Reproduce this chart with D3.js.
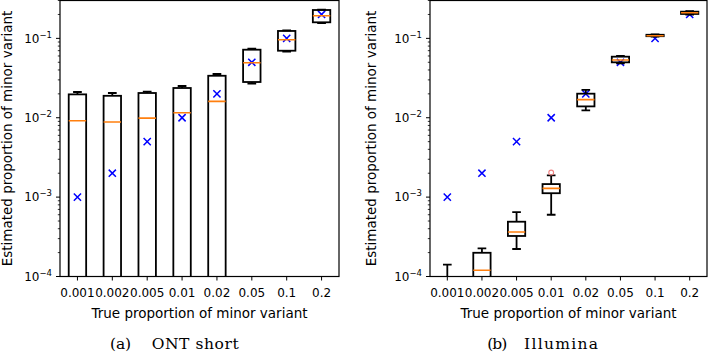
<!DOCTYPE html>
<html><head><meta charset="utf-8">
<script src="https://cdn.jsdelivr.net/npm/d3@7"></script>
<style>body{margin:0;background:#fff}svg{display:block}
text{font-family:"DejaVu Sans";}
text.serif{font-family:"DejaVu Serif";}
</style>
</head><body><svg id="c" width="708" height="353"></svg>
<script>
// ---- data ----
const categories = ["0.001","0.002","0.005","0.01","0.02","0.05","0.1","0.2"];
const trueValues = [0.001,0.002,0.005,0.01,0.02,0.05,0.1,0.2];
const yTickValues = [1e-4,1e-3,1e-2,1e-1];
const yTickExponents = ["−4","−3","−2","−1"];

// ONT short (values below 1e-4 fall outside the visible range)
const ontWhiskLo = [3e-5,3e-5,3e-5,3e-5,3e-5,0.027,0.0679,0.156];
const ontQ1      = [5e-5,5e-5,5e-5,5e-5,5e-5,0.0282,0.0699,0.1594];
const ontMedian  = [0.00917,0.00883,0.0099,0.01156,0.0161,0.0493,0.0962,0.193];
const ontQ3      = [0.0197,0.0189,0.0205,0.0237,0.0338,0.072,0.124,0.2277];
const ontWhiskHi = [0.0211,0.0205,0.0213,0.0251,0.0356,0.0741,0.126,0.2297];
const ontFliers  = [[],[],[],[],[],[],[],[]];

// Illumina
const illWhiskLo = [2e-5,3e-5,2.22e-4,6.0e-4,0.0124,0.0485,0.105,0.2];
const illQ1      = [4e-5,6e-5,3.24e-4,1.12e-3,0.0139,0.0499,0.1065,0.203];
const illMedian  = [6e-5,1.2e-4,3.63e-4,1.29e-3,0.0169,0.0533,0.108,0.21];
const illQ3      = [8e-5,1.99e-4,4.9e-4,1.46e-3,0.0201,0.0588,0.111,0.217];
const illWhiskHi = [1.41e-4,2.26e-4,6.49e-4,1.88e-3,0.0225,0.06,0.112,0.22];
const illFliers  = [[],[],[],[2.04e-3],[],[],[],[]];

const yLabelText = "Estimated proportion of minor variant";
const xLabelText = "True proportion of minor variant";

// ---- drawing ----
const svg = d3.select("#c");
const y = d3.scaleLog().domain([1e-4, 0.3]).range([276.5, 0.5]);

function panel(cfg) {
  const x = d3.scaleLinear().domain([0.5, categories.length + 0.5]).range([cfg.x0, cfg.x1]);
  const g = svg.append("g");
  const clipId = "clip" + cfg.id;
  svg.append("clipPath").attr("id", clipId).append("rect")
    .attr("x", cfg.x0).attr("y", y.range()[1]).attr("width", cfg.x1 - cfg.x0)
    .attr("height", y.range()[0] - y.range()[1]);
  const plot = g.append("g").attr("clip-path", `url(#${clipId})`);

  // true value markers
  const m = 3.6;
  trueValues.forEach((v, i) => {
    const cx = x(i + 1), cy = y(v);
    plot.append("path")
      .attr("d", `M${cx - m},${cy - m}L${cx + m},${cy + m}M${cx - m},${cy + m}L${cx + m},${cy - m}`)
      .attr("stroke", "#0000ff").attr("stroke-width", 1.5).attr("fill", "none");
  });

  const bw = x(1.25) - x(0.75), cw = x(1.125) - x(0.875);
  categories.forEach((c, i) => {
    const cx = x(i + 1);
    const d = cfg.data;
    const q1 = y(d.q1[i]), q3 = y(d.q3[i]), med = y(d.med[i]);
    const lo = y(d.lo[i]), hi = y(d.hi[i]);
    const line = (x1, y1, x2, y2, col, w) => plot.append("line")
      .attr("x1", x1).attr("y1", y1).attr("x2", x2).attr("y2", y2)
      .attr("stroke", col).attr("stroke-width", w);
    line(cx, q3, cx, hi, "#000", 1.8);
    line(cx, q1, cx, lo, "#000", 1.8);
    line(cx - cw / 2, hi, cx + cw / 2, hi, "#000", 1.8);
    line(cx - cw / 2, lo, cx + cw / 2, lo, "#000", 1.8);
    plot.append("rect").attr("x", cx - bw / 2).attr("y", q3)
      .attr("width", bw).attr("height", Math.max(0, q1 - q3))
      .attr("fill", "none").attr("stroke", "#000").attr("stroke-width", 1.8);
    line(cx - bw / 2, med, cx + bw / 2, med, "#ff7f0e", 1.6);
    d.fl[i].forEach(f => plot.append("circle").attr("cx", cx).attr("cy", y(f)).attr("r", 2.4)
      .attr("fill", "none").attr("stroke", "#f08080").attr("stroke-width", 1.1));
  });

  // frame
  g.append("rect").attr("x", cfg.x0).attr("y", y.range()[1])
    .attr("width", cfg.x1 - cfg.x0).attr("height", y.range()[0] - y.range()[1])
    .attr("fill", "none").attr("stroke", "#000").attr("stroke-width", 1.2);

  // y ticks: major + minor
  const minors = [];
  [1e-4, 1e-3, 1e-2, 1e-1].forEach(b => { for (let k = 2; k <= 9; k++) { const v = b * k; if (v <= 0.3 + 1e-12) minors.push(v); } });
  minors.forEach(v => g.append("line").attr("x1", cfg.x0 - 2.2).attr("x2", cfg.x0)
    .attr("y1", y(v)).attr("y2", y(v)).attr("stroke", "#000").attr("stroke-width", 0.8));
  yTickValues.forEach((v, i) => {
    g.append("line").attr("x1", cfg.x0 - 4).attr("x2", cfg.x0)
      .attr("y1", y(v)).attr("y2", y(v)).attr("stroke", "#000").attr("stroke-width", 1);
    const t = g.append("text").attr("x", cfg.x0 - 8).attr("y", y(v) + 4.3)
      .attr("text-anchor", "end").attr("font-size", 12).attr("fill", "#000");
    t.append("tspan").text("10");
    t.append("tspan").attr("dy", -5).attr("font-size", 8.5).text(yTickExponents[i]);
  });

  // x ticks
  categories.forEach((c, i) => {
    g.append("line").attr("x1", x(i + 1)).attr("x2", x(i + 1))
      .attr("y1", y.range()[0]).attr("y2", y.range()[0] + 4).attr("stroke", "#000").attr("stroke-width", 1);
    g.append("text").attr("x", x(i + 1)).attr("y", 296.5).attr("text-anchor", "middle")
      .attr("font-size", 12).text(c);
  });

  // axis labels
  g.append("text").attr("x", (cfg.x0 + cfg.x1) / 2).attr("y", 318).attr("text-anchor", "middle")
    .attr("font-size", 13.5).text(xLabelText);
  g.append("text").attr("transform", `translate(${cfg.ylabX},138.5) rotate(-90)`)
    .attr("text-anchor", "middle").attr("font-size", 13.5).text(yLabelText);

  // caption
  g.append("text").attr("class", "serif").attr("x", cfg.capA).attr("y", 349).attr("font-size", 15.5)
    .attr("textLength", cfg.capAW).attr("lengthAdjust", "spacing").text(cfg.capLetter);
  g.append("text").attr("class", "serif").attr("x", cfg.capB).attr("y", 349).attr("font-size", 15.5)
    .attr("textLength", cfg.capBW).attr("lengthAdjust", "spacing").text(cfg.capName);
}

panel({ id: "a", x0: 60, x1: 339, ylabX: 12,
  data: { lo: ontWhiskLo, q1: ontQ1, med: ontMedian, q3: ontQ3, hi: ontWhiskHi, fl: ontFliers },
  capLetter: "(a)", capName: "ONT short", capA: 110, capAW: 21, capB: 151.7, capBW: 87 });
panel({ id: "b", x0: 430, x1: 707, ylabX: 376,
  data: { lo: illWhiskLo, q1: illQ1, med: illMedian, q3: illQ3, hi: illWhiskHi, fl: illFliers },
  capLetter: "(b)", capName: "Illumina", capA: 487.3, capAW: 20, capB: 524, capBW: 74 });
</script></body></html>
